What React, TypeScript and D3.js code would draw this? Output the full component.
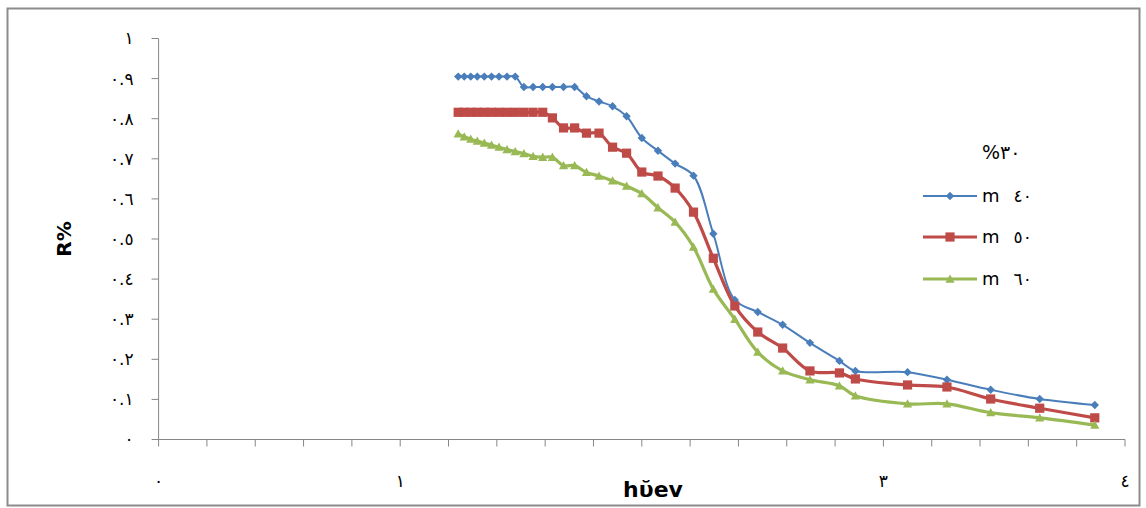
import React from "react";
import * as d3 from "d3";

// photon energy (eV)
const energies = [1.24, 1.265, 1.292, 1.319, 1.348, 1.378, 1.409, 1.442, 1.476, 1.512, 1.55, 1.59, 1.63, 1.676, 1.722, 1.771, 1.823, 1.879, 1.937, 2.0, 2.067, 2.138, 2.214, 2.296, 2.385, 2.48, 2.583, 2.696, 2.818, 2.884, 3.1, 3.263, 3.444, 3.647, 3.875];

const r40 = [0.905, 0.905, 0.905, 0.905, 0.905, 0.905, 0.905, 0.905, 0.905, 0.879, 0.879, 0.879, 0.879, 0.879, 0.879, 0.856, 0.843, 0.831, 0.806, 0.752, 0.72, 0.688, 0.658, 0.513, 0.348, 0.318, 0.286, 0.241, 0.196, 0.171, 0.168, 0.149, 0.124, 0.101, 0.086];
const r50 = [0.816, 0.816, 0.816, 0.816, 0.816, 0.816, 0.816, 0.816, 0.816, 0.816, 0.816, 0.816, 0.802, 0.777, 0.777, 0.764, 0.764, 0.729, 0.714, 0.667, 0.657, 0.627, 0.567, 0.452, 0.333, 0.268, 0.228, 0.171, 0.166, 0.151, 0.136, 0.131, 0.101, 0.078, 0.054];
const r60 = [0.762, 0.755, 0.749, 0.744, 0.739, 0.734, 0.729, 0.723, 0.718, 0.713, 0.706, 0.704, 0.704, 0.683, 0.683, 0.666, 0.657, 0.645, 0.632, 0.613, 0.578, 0.542, 0.48, 0.375, 0.3, 0.218, 0.171, 0.149, 0.134, 0.109, 0.089, 0.089, 0.067, 0.054, 0.036];

const seriesNames = ["m ٤٠", "m ٥٠", "m ٦٠"];
const seriesNums = ["٤٠", "٥٠", "٦٠"];
const legendTitle = "%٣٠";

const xTickValues = [0, 1, 3, 4];
const xTickLabels = ["٠", "١", "٣", "٤"];
const yTickValues = [0, 0.1, 0.2, 0.3, 0.4, 0.5, 0.6, 0.7, 0.8, 0.9, 1];
const yTickLabels = ["٠", "٠.١", "٠.٢", "٠.٣", "٠.٤", "٠.٥", "٠.٦", "٠.٧", "٠.٨", "٠.٩", "١"];

const xTitle = "hῠev";
const yTitle = "R%";

const W = 1146;
const H = 508;

const x = d3.scaleLinear().domain([0, 4]).range([158.6, 1125]);
const y = d3.scaleLinear().domain([0, 1]).range([439.5, 38.5]);

const colors = ["#4A7EBB", "#BE4B48", "#98B954"];
const widths = [2, 3.2, 3.2];

const series = [r40, r50, r60];

function Marker({ kind, cx, cy, color }: { kind: number; cx: number; cy: number; color: string }) {
  if (kind === 0) {
    const s = 4.2;
    return <path d={`M${cx},${cy - s}L${cx + s},${cy}L${cx},${cy + s}L${cx - s},${cy}Z`} fill={color} />;
  }
  if (kind === 1) {
    const s = 4.6;
    return <rect x={cx - s} y={cy - s} width={2 * s} height={2 * s} fill={color} />;
  }
  const s = 4.6;
  return <path d={`M${cx},${cy - s}L${cx + s},${cy + s * 0.8}L${cx - s},${cy + s * 0.8}Z`} fill={color} />;
}

export default function App() {
  const line = d3
    .line<[number, number]>()
    .x((d) => x(d[0]))
    .y((d) => y(d[1]))
    .curve(d3.curveCatmullRom.alpha(0.5));

  const xMinor = d3.range(0, 21).map((i) => i * 0.2);
  const font = "'DejaVu Sans', Arial, sans-serif";

  return (
    <svg
      width={W}
      height={H}
      style={{ position: "absolute", left: 0, top: 0, background: "#fff" }}
      fontFamily={font}
    >
      <rect x={0} y={0} width={W} height={H} fill="#fff" />
      <rect x={7.5} y={8.5} width={1132} height={497} fill="none" stroke="#8c8c8c" strokeWidth={2} />

      {/* y axis */}
      <line x1={x(0)} x2={x(0)} y1={y(0)} y2={y(1)} stroke="#868686" strokeWidth={1} />
      {yTickValues.map((v, i) => (
        <g key={"y" + i}>
          <line x1={x(0) - 7} x2={x(0)} y1={y(v)} y2={y(v)} stroke="#868686" strokeWidth={1} />
          <text x={x(0) - 25} y={y(v)} dy="0.35em" textAnchor="end" fontSize={17} letterSpacing={2} fill="#000">
            {yTickLabels[i]}
          </text>
        </g>
      ))}

      {/* x axis */}
      <line x1={x(0)} x2={x(4)} y1={y(0)} y2={y(0)} stroke="#868686" strokeWidth={1} />
      {xMinor.map((v, i) => (
        <line key={"xt" + i} x1={x(v)} x2={x(v)} y1={y(0)} y2={y(0) + 7} stroke="#868686" strokeWidth={1} />
      ))}
      {xTickValues.map((v, i) => (
        <text key={"xl" + i} x={x(v)} y={487} textAnchor="middle" fontSize={17} fill="#000">
          {xTickLabels[i]}
        </text>
      ))}

      {/* titles */}
      <text x={653} y={497} textAnchor="middle" fontSize={22} fontWeight="bold" fill="#000">
        {xTitle}
      </text>
      <text
        transform={`translate(71,239) rotate(-90)`}
        textAnchor="middle"
        fontSize={20}
        fontWeight="bold"
        fill="#000"
      >
        {yTitle}
      </text>

      {/* series */}
      {series.map((vals, si) => {
        const pts: [number, number][] = energies.map((e, i) => [e, vals[i]]);
        return (
          <g key={"s" + si}>
            <path d={line(pts) || ""} fill="none" stroke={colors[si]} strokeWidth={widths[si]} />
            {pts.map((p, i) => (
              <Marker key={i} kind={si} cx={x(p[0])} cy={y(p[1])} color={colors[si]} />
            ))}
          </g>
        );
      })}

      {/* legend */}
      <text x={982} y={159} fontSize={19} fill="#000">
        {legendTitle}
      </text>
      {seriesNames.map((name, i) => {
        const ly = [196, 237, 279][i];
        return (
          <g key={"lg" + i}>
            <line x1={923} x2={977} y1={ly} y2={ly} stroke={colors[i]} strokeWidth={widths[i]} />
            <Marker kind={i} cx={950} cy={ly} color={colors[i]} />
            <text x={982} y={ly} dy="0.35em" fontSize={18} fill="#000" aria-label={name}>
              m
              <tspan dx={14} fontSize={17}>{seriesNums[i]}</tspan>
            </text>
          </g>
        );
      })}
    </svg>
  );
}
